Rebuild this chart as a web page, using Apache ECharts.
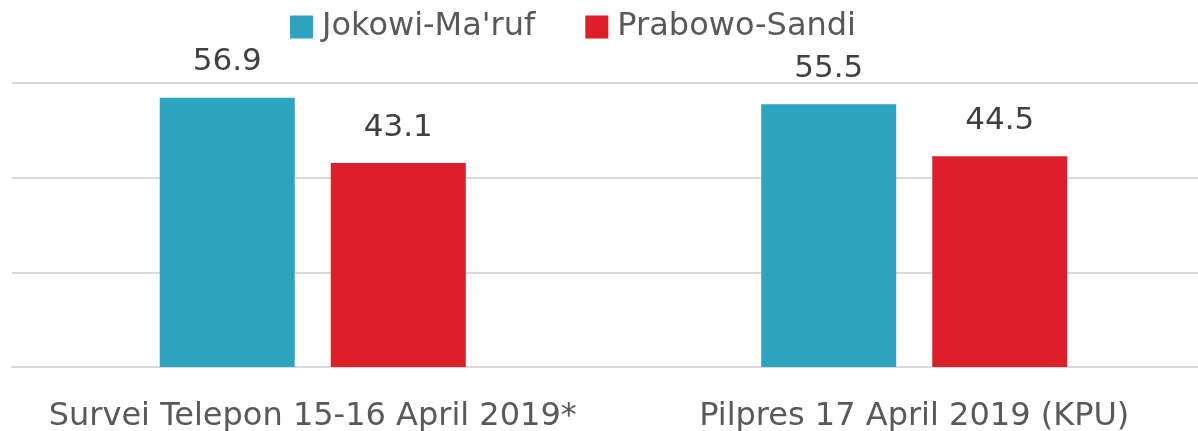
<!DOCTYPE html>
<html><head><meta charset="utf-8">
<script src="https://cdn.jsdelivr.net/npm/echarts@6/dist/echarts.min.js"></script>
<style>html,body{margin:0;padding:0;background:#fff}#c{width:1198px;height:431px}</style>
</head><body><div id="c"></div>
<script>
const categories = ["Survei Telepon 15-16 April 2019*", "Pilpres 17 April 2019 (KPU)"];
const seriesNames = ["Jokowi-Ma'ruf", "Prabowo-Sandi"];
const jokowi = [56.9, 55.5];
const prabowo = [43.1, 44.5];
const FONT = "'DejaVu Sans', sans-serif";
const chart = echarts.init(document.getElementById('c'));
const lbl = {show:true, position:'top', distance:20, fontSize:31, color:'#404040', fontFamily:FONT, formatter:p=>p.value.toFixed(1)};
chart.setOption({
  animation:false,
  legend:{left:285, top:6, itemWidth:23, itemHeight:23, itemGap:50, icon:'rect',
    textStyle:{fontSize:32, color:'#595959', fontFamily:FONT, padding:[0,0,0,4]}},
  grid:{left:12, width:1203, top:83, bottom:64, containLabel:false, outerBoundsMode:'none'},
  xAxis:{type:'category', data:categories,
    axisLine:{lineStyle:{color:'#d9d9d9', width:2}}, axisTick:{show:false},
    axisLabel:{interval:0, fontSize:32, color:'#595959', fontFamily:FONT, margin:34}},
  yAxis:{type:'value', min:0, max:60, interval:20, axisLabel:{show:false},
    splitLine:{lineStyle:{color:'#d9d9d9', width:2}}},
  series:[
    {name:seriesNames[0], type:'bar', data:jokowi, barWidth:135, barGap:'26.7%', itemStyle:{color:'#2ca3bf'}, label:lbl},
    {name:seriesNames[1], type:'bar', data:prabowo, barWidth:135, itemStyle:{color:'#dc1f28'}, label:lbl}
  ]
});
</script></body></html>
